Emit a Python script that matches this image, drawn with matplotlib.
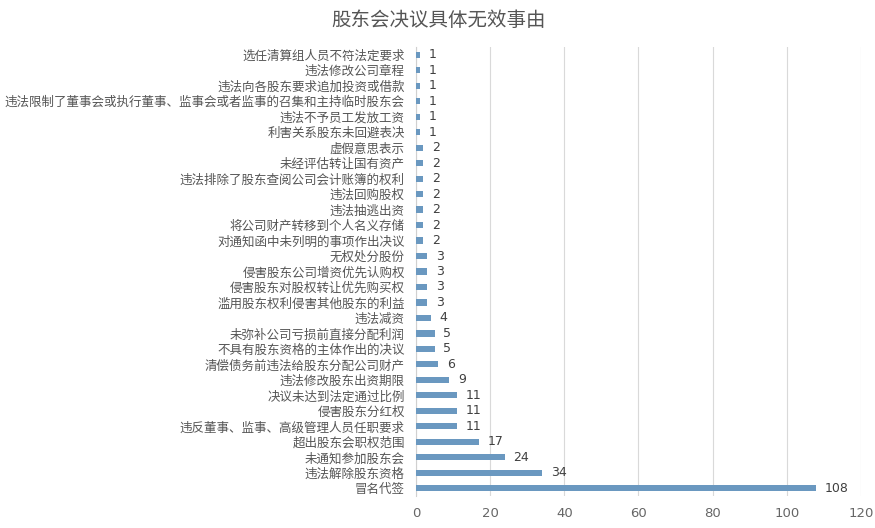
import matplotlib
matplotlib.use("Agg")
import matplotlib.pyplot as plt
import numpy as np

plt.rcParams['font.family'] = ['Noto Sans CJK SC', 'DejaVu Sans']

# categories listed top to bottom as in the chart
reasons = [
    "选任清算组人员不符法定要求",
    "违法修改公司章程",
    "违法向各股东要求追加投资或借款",
    "违法限制了董事会或执行董事、监事会或者监事的召集和主持临时股东会",
    "违法不予员工发放工资",
    "利害关系股东未回避表决",
    "虚假意思表示",
    "未经评估转让国有资产",
    "违法排除了股东查阅公司会计账簿的权利",
    "违法回购股权",
    "违法抽逃出资",
    "将公司财产转移到个人名义存储",
    "对通知函中未列明的事项作出决议",
    "无权处分股份",
    "侵害股东公司增资优先认购权",
    "侵害股东对股权转让优先购买权",
    "滥用股东权利侵害其他股东的利益",
    "违法减资",
    "未弥补公司亏损前直接分配利润",
    "不具有股东资格的主体作出的决议",
    "清偿债务前违法给股东分配公司财产",
    "违法修改股东出资期限",
    "决议未达到法定通过比例",
    "侵害股东分红权",
    "违反董事、监事、高级管理人员任职要求",
    "超出股东会职权范围",
    "未通知参加股东会",
    "违法解除股东资格",
    "冒名代签",
]
counts = [1, 1, 1, 1, 1, 1, 2, 2, 2, 2, 2, 2, 2, 3, 3, 3, 3, 4, 5, 5, 6, 9,
          11, 11, 11, 17, 24, 34, 108]
xticks = [0, 20, 40, 60, 80, 100, 120]

fig = plt.figure(figsize=(8.75, 5.28), dpi=100)
ax = fig.add_axes([0.4754, 0.0606, 0.5086, 0.8504])

y = np.arange(len(reasons))[::-1]
bar_color = "#6a98c0"
ax.barh(y, counts, height=0.4, color=bar_color, zorder=3)

for yi, v in zip(y, counts):
    ax.text(v + 2.3, yi, str(v), va="center", ha="left", fontsize=9,
            color="#404040", family=["DejaVu Sans"])

ax.set_yticks(y)
ax.set_yticklabels(reasons, fontsize=9, color="#555555")
ax.set_ylim(-0.5, len(reasons) - 0.5)
ax.set_xlim(0, 120)
ax.set_xticks(xticks)
ax.set_xticklabels([str(t) for t in xticks], fontsize=9.5, color="#666666",
                   family=["DejaVu Sans"])
ax.tick_params(axis="both", length=0)
ax.tick_params(axis="y", pad=8)
ax.tick_params(axis="x", pad=8)

ax.grid(axis="x", color="#d9d9d9", linewidth=0.8, zorder=0)
for s in ["top", "right", "bottom"]:
    ax.spines[s].set_visible(False)
ax.spines["left"].set_color("#d0d0d0")
ax.spines["left"].set_linewidth(0.8)

fig.text(0.501, 0.962, "股东会决议具体无效事由", ha="center", va="center",
         fontsize=14, color="#555555")

fig.savefig("out.png", dpi=100)
